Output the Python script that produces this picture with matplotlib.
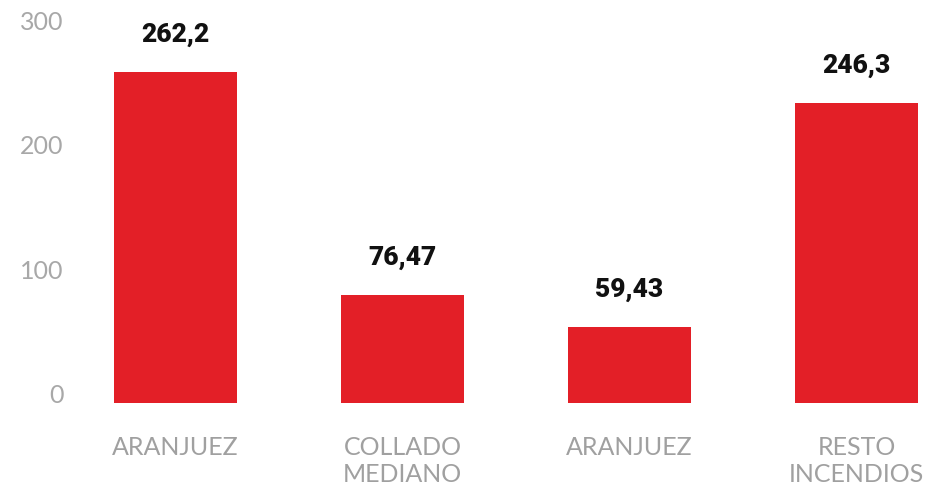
import matplotlib.pyplot as plt

# Data
categories = ['ARANJUEZ', 'COLLADO\nMEDIANO', 'ARANJUEZ', 'RESTO\nINCENDIOS']
bar_heights = [266, 87, 61, 241]
value_labels = ['262,2', '76,47', '59,43', '246,3']
y_ticks = [0, 100, 200, 300]

fig = plt.figure(figsize=(9.48, 4.86), dpi=100)
ax = fig.add_axes([80 / 948, 83 / 486, 868 / 948, 393 / 486])

x = range(len(categories))
bars = ax.bar(x, bar_heights, width=0.54, color='#e31f27')

# Value labels above bars
for bar, label in zip(bars, value_labels):
    ax.annotate(label, (bar.get_x() + bar.get_width() / 2, bar.get_height()),
                xytext=(0, 18), textcoords='offset points', ha='center', va='bottom',
                fontsize=19, fontweight='heavy', family='Roboto', color='#111111')

ax.set_xlim(-0.4207, 3.403)
ax.set_ylim(0, 315.7)
ax.set_xticks(list(x))
ax.set_xticklabels(categories, fontsize=18, family='Lato', fontweight='normal',
                   color='#a0a0a0', linespacing=1.2, va='top')
ax.set_yticks(y_ticks)
ax.set_yticklabels([str(t) for t in y_ticks], fontsize=18, family='Lato',
                   fontweight='normal', color='#a8a8a8', va='baseline')
ax.tick_params(axis='x', length=0, pad=24)
ax.tick_params(axis='y', length=0, pad=12)
for s in ax.spines.values():
    s.set_visible(False)

plt.savefig('out.png')
